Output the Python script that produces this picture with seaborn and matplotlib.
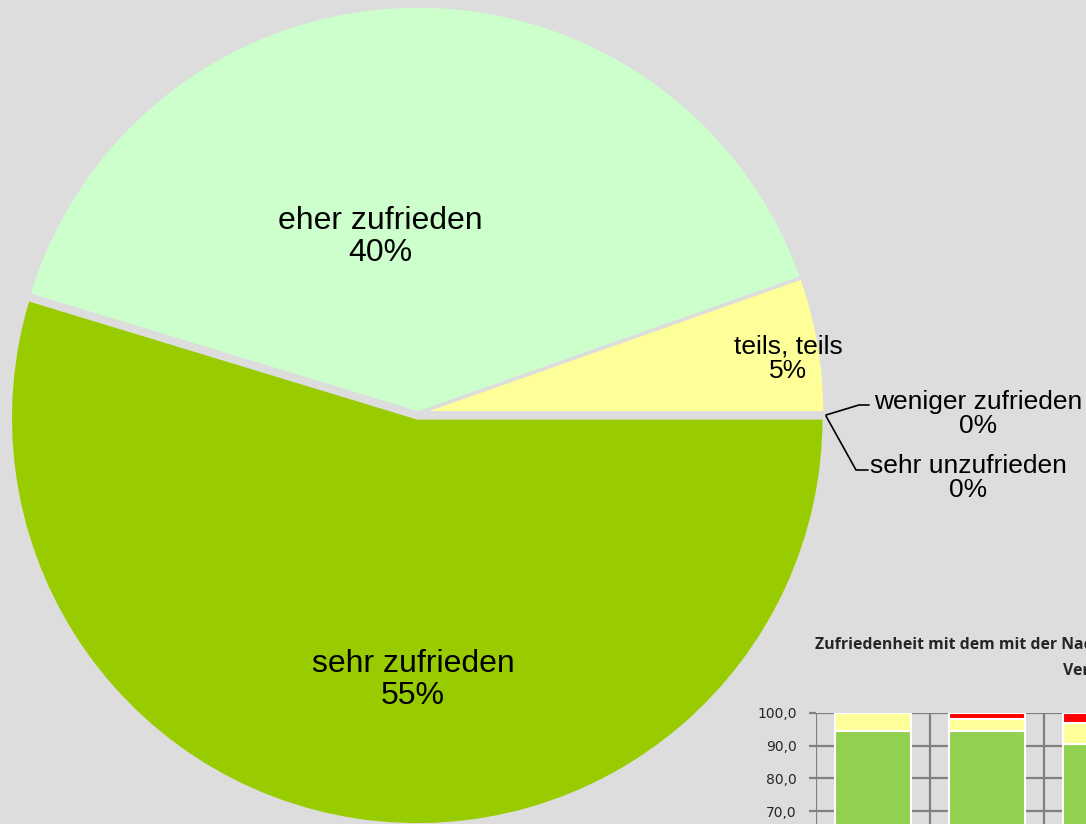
import matplotlib
matplotlib.use("Agg")
import matplotlib.pyplot as plt
import seaborn as sns
import pandas as pd
from matplotlib.ticker import FuncFormatter, FixedLocator

# ---------------- data ----------------
pie_labels = ["teils, teils", "eher zufrieden", "sehr zufrieden",
              "weniger zufrieden", "sehr unzufrieden"]
pie_values = [5.4, 39.9, 54.7, 0.0, 0.0]
pie_pct_text = ["5%", "40%", "55%", "0%", "0%"]
pie_colors = ["#FFFF99", "#CCFFCC", "#99CC00", "#FF9900", "#FF0000"]

bar_categories = ["A", "B", "C"]
bar_sehr = [94.5, 94.6, 90.5]
bar_teils = [5.5, 3.6, 6.3]
bar_unzuf = [0.0, 1.8, 3.2]
bar_title_1 = "Zufriedenheit mit dem mit der Nachsorge betrauten"
bar_title_2 = "Versorger"
bar_yticks = [70, 80, 90, 100]

BG = "#DDDDDD"

sns.set_theme(style="white")
plt.rcParams["font.family"] = ["Liberation Sans", "DejaVu Sans"]

W, H = 1086, 824
fig = plt.figure(figsize=(W / 100, H / 100), dpi=100)
fig.patch.set_facecolor(BG)

# ---------------- pie ----------------
cx, cy, R = 418, 413, 407
ax = fig.add_axes([(cx - R) / W, (H - cy - R) / H, 2 * R / W, 2 * R / H])
ax.set_facecolor(BG)
ax.axis("off")
explode = [0, 0, 0.012, 0, 0]
wedges, _ = ax.pie(pie_values, colors=pie_colors, startangle=0,
                   counterclock=True, explode=explode, radius=1.0,
                   wedgeprops=dict(edgecolor=BG, linewidth=2.5),
                   normalize=True)
ax.set_xlim(-1, 1)
ax.set_ylim(-1, 1)

def px(x, y):
    return ((x - cx) / R, (cy - y) / R)

big = 23
small = 19
label_pos = {
    0: (788, 359, small),
    1: (380, 237, big),
    2: (413, 680, big),
    3: (978, 414, small),
    4: (968, 478, small),
}
for i, (x, y, fs) in label_pos.items():
    tx, ty = px(x, y)
    ax.text(tx, ty, f"{pie_labels[i]}\n{pie_pct_text[i]}", ha="center",
            va="center", fontsize=fs, color="black", linespacing=1.05,
            clip_on=False)

# leader lines for zero slices
for pts in ([(826, 415), (859, 405), (869, 405)],
            [(826, 416), (856, 470), (868, 470)]):
    xs, ys = zip(*[px(a, b) for a, b in pts])
    ax.plot(xs, ys, color="black", lw=1.2, clip_on=False)

# ---------------- inset stacked bar chart ----------------
left_px, top_px = 816, 713
unit = 3.267  # px per percent
step = 114
bax = fig.add_axes([left_px / W, (H - top_px - 100 * unit) / H,
                    step * len(bar_categories) / W, 100 * unit / H])
bax.set_facecolor(BG)

df = pd.DataFrame({"cat": bar_categories, "sehr": bar_sehr,
                   "teils": bar_teils, "unzuf": bar_unzuf})
df["b2"] = df["sehr"]
df["b3"] = df["sehr"] + df["teils"]
sns.barplot(data=df, x="cat", y="sehr", color="#92D050", width=0.67,
            edgecolor="white", linewidth=1.5, saturation=1, ax=bax, zorder=3)
bax.bar(df["cat"], df["teils"], bottom=df["b2"], width=0.67,
        color="#FFFF99", edgecolor="white", linewidth=1.5, zorder=3)
bax.bar(df["cat"], df["unzuf"], bottom=df["b3"], width=0.67,
        color="#FF0000", edgecolor="white", linewidth=1.5, zorder=3)

bax.set_xlim(-0.5, len(bar_categories) - 0.5)
bax.set_ylim(0, 100)
bax.yaxis.set_major_locator(FixedLocator(bar_yticks))
bax.yaxis.set_major_formatter(FuncFormatter(lambda v, p: f"{v:.1f}".replace(".", ",")))
bax.xaxis.set_major_locator(FixedLocator([i - 0.5 for i in range(len(bar_categories) + 1)]))
bax.set_xticklabels([])
bax.grid(True, color="#808080", linewidth=1.6, zorder=0)
bax.set_axisbelow(True)
for s in bax.spines.values():
    s.set_visible(False)
bax.tick_params(axis="y", length=5, width=1.6, color="#808080", labelsize=10,
                pad=9, left=True)
bax.tick_params(axis="x", length=0)
for t in bax.get_yticklabels():
    t.set_fontfamily("DejaVu Sans")
bax.set_xlabel("")
bax.set_ylabel("")

fig.text(815 / W, (H - 645) / H, bar_title_1, ha="left", va="center",
         fontsize=11.4, fontweight="bold", fontfamily="Open Sans")
fig.text(1063 / W, (H - 671) / H, bar_title_2, ha="left", va="center",
         fontsize=11.4, fontweight="bold", fontfamily="Open Sans")

fig.savefig("out.png", dpi=100, facecolor=BG)
